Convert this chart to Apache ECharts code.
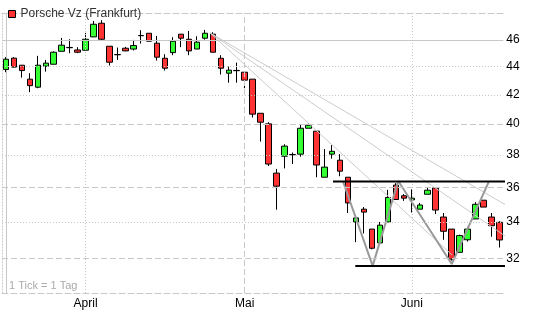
<!DOCTYPE html>
<html><head><meta charset="utf-8">
<script src="https://cdn.jsdelivr.net/npm/echarts@6/dist/echarts.min.js"></script>
<style>html,body{margin:0;padding:0;background:#fff}#c{width:545px;height:327px}</style>
</head><body><div id="c"></div><script>
// ---- data ----
const dates = ['2010-03-18','2010-03-19','2010-03-22','2010-03-23','2010-03-24','2010-03-25','2010-03-26','2010-03-29','2010-03-30','2010-03-31',
 '2010-04-01','2010-04-06','2010-04-07','2010-04-08','2010-04-09','2010-04-12','2010-04-13','2010-04-14','2010-04-15','2010-04-16',
 '2010-04-19','2010-04-20','2010-04-21','2010-04-22','2010-04-23','2010-04-26','2010-04-27','2010-04-28','2010-04-29','2010-04-30',
 '2010-05-03','2010-05-04','2010-05-05','2010-05-06','2010-05-07','2010-05-10','2010-05-11','2010-05-12','2010-05-13','2010-05-14',
 '2010-05-17','2010-05-18','2010-05-19','2010-05-20','2010-05-21','2010-05-24','2010-05-25','2010-05-26','2010-05-27','2010-05-28',
 '2010-05-31','2010-06-01','2010-06-02','2010-06-03','2010-06-04','2010-06-07','2010-06-08','2010-06-09','2010-06-10','2010-06-11',
 '2010-06-14','2010-06-15','2010-06-16'];
const openP  = [43.80,44.63,44.11,43.10,42.53,44.04,44.18,45.14,45.43,45.24, 45.22,46.23,47.29,45.52,44.90,45.37,45.31,46.34,46.51,45.75,
 44.62,45.04,46.44,46.05,45.31,46.13,46.44,44.62,43.53,43.73, 43.60,43.10,40.73,40.02,36.88,37.93,38.04,38.06,39.73,39.54,
 36.63,38.06,37.68,36.63,34.01,34.74,33.61,32.85,34.01,36.15, 35.52,35.28,34.74,35.61,35.98,34.29,33.61,32.34,33.02,34.18,
 35.26,34.29,33.99];
const closeP = [44.55,43.97,43.72,42.64,44.11,44.26,45.07,45.60,45.41,45.07, 46.05,47.21,46.05,44.33,44.88,45.17,45.57,46.32,45.90,44.70,
 43.89,45.90,46.13,45.17,45.83,46.51,45.07,43.89,43.75,43.71, 43.03,40.67,40.13,37.44,36.09,38.57,38.02,39.73,39.93,37.38,
 37.25,38.24,37.00,35.10,34.24,34.57,32.56,33.83,35.42,35.30, 35.38,35.38,34.98,35.85,34.69,33.49,31.98,33.25,33.61,35.02,
 34.86,33.80,33.01];
const lowP   = [43.60,43.95,43.21,42.18,42.46,43.64,44.18,45.14,45.00,45.00, 45.22,46.23,45.95,44.08,44.50,45.15,45.20,45.72,45.90,44.45,
 43.72,44.85,45.45,44.85,45.31,46.02,45.07,43.43,42.85,42.85, 42.46,40.44,38.86,37.32,34.71,37.17,37.44,37.90,39.73,36.63,
 36.63,37.78,36.69,34.52,32.89,33.37,32.50,32.85,34.01,35.30, 35.22,34.55,34.74,35.61,34.46,33.02,31.90,32.34,32.92,34.18,
 34.86,33.19,32.60];
const highP  = [44.70,44.70,44.11,43.53,44.80,44.50,45.14,46.15,46.05,45.45, 46.54,47.47,47.53,45.52,45.42,45.47,46.00,46.75,46.51,46.31,
 44.92,46.21,46.44,46.69,46.28,46.77,46.59,44.85,44.01,44.30, 43.60,43.10,40.73,40.13,37.13,38.69,38.16,40.00,40.06,39.54,
 38.38,38.63,38.06,36.63,34.40,34.86,33.61,34.01,35.87,36.27, 35.62,35.90,35.10,36.04,35.98,34.52,33.61,33.30,33.74,35.15,
 35.26,34.52,34.05];
const priceTicks = [32,34,36,38,40,42,44,46];
const monthNames = {'03':'März','04':'April','05':'Mai','06':'Juni'};
// drawn trend lines (x = trading-day index, y = price)
const zigzagX = [42.36,46.08,49.30,56.02,60.67];
const zigzagY = [36.37,31.62,36.40,31.72,36.35];
const resistanceX = [41.1,66.1], resistanceY = [36.37,36.37];
const supportX = [43.9,65.4], supportY = [31.62,31.62];
const fanLines = [
  [[25.64,46.54],[56.06,32.20]],
  [[25.64,46.54],[66.74,32.04]],
  [[25.64,46.54],[67.75,33.68]]
];
const noteText = '1 Tick = 1 Tag';
const seriesName = 'Porsche Vz (Frankfurt)';

// ---- chart ----
const FONT = 'Liberation Sans, Arial, sans-serif';
const candles = dates.map((d,i)=>[openP[i],closeP[i],lowP[i],highP[i]]);
const isMonthStart = i => i>0 && dates[i].slice(5,7)!==dates[i-1].slice(5,7);
const monthStarts = dates.map((d,i)=>i).filter(isMonthStart);
const hStyle = {46:'solid',44:[1,2],42:[1,2],40:[6,3],38:[1,2],36:[6,3],34:[1,2],32:[6,3]};
const vStyle = [[1,2],[6,3],[1,2]];
const gridColor = '#c8c8c8';

const pairs = (xs,ys)=>xs.map((x,i)=>[x,ys[i]]);
const lineSeries = (data,color,width,z)=>({
  type:'line', xAxisIndex:1, yAxisIndex:0, data, symbol:'none', clip:false, silent:true,
  lineStyle:{color, width}, z, animation:false, legendHoverLink:false
});

const series = [
  {
    type:'line', xAxisIndex:1, yAxisIndex:0, data:[], silent:true, z:1,
    markLine:{
      silent:true, symbol:'none', animation:false, label:{show:false},
      data:[
        ...priceTicks.map(v=>({yAxis:v, lineStyle:{color:gridColor,width:1,type:hStyle[v]}})),
        ...monthStarts.map((i,k)=>({xAxis:i, lineStyle:{color:gridColor,width:1,type:vStyle[k%vStyle.length]}}))
      ]
    }
  },
  {
    name:seriesName, type:'candlestick', xAxisIndex:0, yAxisIndex:0, data:candles, barWidth:6, z:2,
    itemStyle:{color:'#33ff33', color0:'#ff3333', borderColor:'#000', borderColor0:'#000', borderColorDoji:'#000', borderWidth:1}
  },
  ...fanLines.map(l=>lineSeries(l,'#cccccc',1,3)),
  lineSeries(pairs(zigzagX,zigzagY),'#999999',2,4),
  lineSeries(pairs(resistanceX,resistanceY),'#000000',2,5),
  lineSeries(pairs(supportX,supportY),'#000000',2,5)
];

const chart = echarts.init(document.getElementById('c'), null, {renderer:'canvas'});
chart.setOption({
  animation:false,
  backgroundColor:'#fff',
  textStyle:{fontFamily:FONT},
  legend:{
    left:3, top:3, itemWidth:7, itemHeight:7, selectedMode:false,
    textStyle:{fontFamily:FONT, fontSize:12, color:'#333'},
    data:[{name:seriesName, icon:'rect', itemStyle:{color:'#ff3333', borderColor:'#000', borderWidth:1}}]
  },
  grid:{left:2, right:41.7, top:13, bottom:34, containLabel:false},
  xAxis:[
    {type:'category', data:dates, boundaryGap:true, position:'bottom',
     axisLine:{lineStyle:{color:gridColor, type:[6,3]}}, axisTick:{show:false}, splitLine:{show:false},
     axisLabel:{interval:(i)=>isMonthStart(i), formatter:(v)=>monthNames[v.slice(5,7)], color:'#000', fontSize:12, margin:5, fontFamily:FONT}},
    {type:'value', min:-0.5, max:62.5, position:'top', show:true,
     axisLine:{show:true, onZero:false, lineStyle:{color:gridColor, type:[6,3]}}, axisTick:{show:false}, axisLabel:{show:false}, splitLine:{show:false}}
  ],
  yAxis:[
    {type:'log', min:30.23, max:48.1, position:'right',
     axisLine:{show:true, lineStyle:{color:gridColor}}, axisTick:{show:false, customValues:priceTicks},
     axisLabel:{customValues:priceTicks, color:'#000', fontSize:12, margin:3, fontFamily:FONT}, splitLine:{show:false}},
    {type:'value', min:0, max:1, position:'left',
     axisLine:{show:true, onZero:false, lineStyle:{color:gridColor, type:[1,2]}}, axisTick:{show:false}, axisLabel:{show:false}, splitLine:{show:false}}
  ],
  graphic:[{type:'text', left:9, top:280, style:{text:noteText, fill:'#aaaaaa', font:'11px '+FONT}}],
  series
});
</script></body></html>
